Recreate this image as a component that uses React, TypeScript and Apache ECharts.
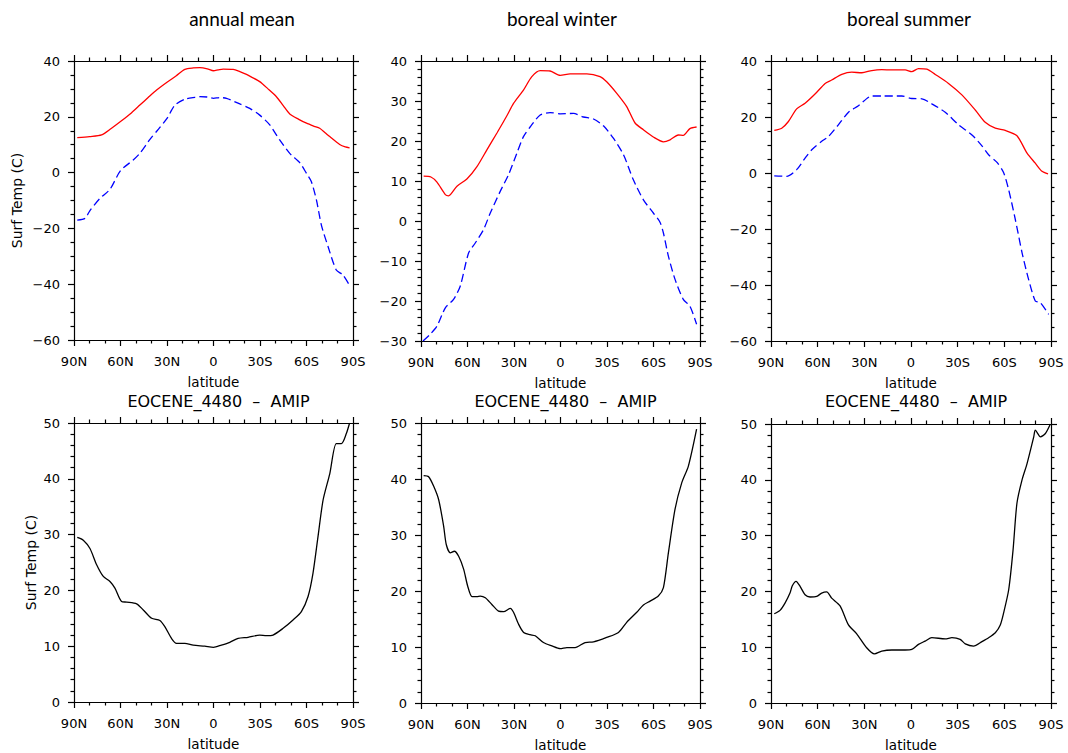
import React, { useEffect, useRef } from "react";
import * as echarts from "echarts";

// ---------- DATA ----------
const PANEL_TITLES = ["annual mean", "boreal winter", "boreal summer"];
const DIFF_TITLE = "EOCENE_4480\u00a0\u00a0–\u00a0\u00a0AMIP";
const X_NAME = "latitude";
const Y_NAME = "Surf Temp (C)";

// annual mean
const LAT_AM_RED = [87.9, 80, 72.2, 66, 60, 53, 47.5, 42, 36.7, 30, 24, 18.5, 13, 8.8, 4, 0, -3, -6.2, -12.7, -17, -21.3, -25, -29.8, -35, -40.6, -45, -49.2, -55, -60, -65, -68.5, -72, -75, -81.4, -85, -87.8];
const T_AM_RED = [12.5, 12.9, 13.5, 15.8, 18.3, 21.4, 24.2, 27.0, 29.6, 32.4, 34.7, 37.0, 37.5, 37.6, 37.2, 36.5, 36.8, 37.1, 37.0, 36.2, 35.2, 34.1, 32.6, 30.1, 27.2, 24.0, 21.0, 19.1, 17.7, 16.6, 15.9, 14.3, 12.9, 10.1, 9.2, 8.9];
const LAT_AM_BLUE = [87.9, 82.9, 79.7, 73.2, 66.8, 60, 51.8, 47.5, 41, 34.6, 30, 24.9, 18.5, 12, 8.8, 4, 0, -4, -8.4, -17, -23.4, -29.8, -36.3, -42.7, -49.2, -55.6, -60, -63.1, -66.4, -69.6, -73.9, -79.2, -83.5, -88.3];
const T_AM_BLUE = [-17.0, -16.4, -13.6, -9.2, -6.0, 0.7, 4.5, 6.9, 11.9, 16.2, 19.4, 24.2, 26.3, 27.0, 27.2, 27.1, 26.6, 26.9, 26.6, 24.6, 23.0, 20.6, 17.1, 11.7, 6.9, 3.6, -0.3, -3.2, -9.8, -18.8, -26.5, -34.9, -36.7, -40.9];

// boreal winter
const LAT_DJF_RED = [88.3, 83.6, 79.7, 74.3, 72.2, 66.8, 60.4, 53.9, 47.5, 41, 34.6, 30.3, 23.8, 18.5, 13.1, 6.7, 0.2, -6.2, -17, -25.5, -29.8, -36.3, -42.7, -48.1, -53.5, -59.9, -66.4, -70.7, -76, -79.2, -83.5, -87.8];
const T_DJF_RED = [11.2, 11.0, 9.7, 6.6, 6.3, 8.7, 10.5, 13.6, 17.8, 22.0, 26.3, 29.4, 32.8, 36.1, 37.6, 37.5, 36.4, 36.8, 36.8, 36.1, 34.8, 31.9, 28.6, 24.5, 22.8, 21.0, 19.8, 20.3, 21.5, 21.4, 23.1, 23.5];
const LAT_DJF_BLUE = [88.7, 84, 79.7, 74.3, 69, 64.7, 59.3, 55, 49.6, 45.3, 38.9, 33.5, 28.1, 23.9, 19.6, 13.1, 6.7, 0.2, -8.4, -14.8, -21.3, -27.7, -34.1, -40.6, -47, -53.5, -59.9, -64.2, -66.4, -69.6, -73.9, -79.2, -83.5, -87.8];
const T_DJF_BLUE = [-30.0, -28.3, -26.3, -21.7, -19.6, -16.3, -8.0, -5.5, -2.1, 2.0, 7.4, 11.6, 17.0, 21.1, 23.5, 26.5, 27.1, 26.8, 26.9, 26.0, 25.5, 23.8, 20.7, 16.6, 10.3, 5.3, 2.0, -0.3, -3.0, -8.8, -14.6, -19.6, -21.3, -25.8];

// boreal summer
const LAT_JJA_RED = [87.9, 83.1, 78.8, 73.5, 68.1, 61.7, 55.2, 51, 44.5, 38.1, 31.6, 25.2, 18.8, 12.3, 3.8, -0.5, -4.8, -10.2, -15.6, -24.1, -32.7, -41.3, -47.7, -54.2, -60.6, -68.1, -74.6, -79.9, -84.2, -88.1];
const T_JJA_RED = [15.2, 16.0, 18.4, 22.9, 24.9, 28.2, 32.0, 33.2, 35.2, 36.0, 35.8, 36.6, 36.9, 36.8, 36.8, 36.2, 37.3, 37.1, 35.2, 32.0, 27.9, 22.5, 18.1, 16.0, 15.2, 13.3, 7.1, 3.5, 0.6, -0.3];
const LAT_JJA_BLUE = [87.9, 79.9, 73.5, 68.1, 63.8, 57.4, 53.1, 46.7, 40.2, 33.8, 25.2, 18.8, 5.9, -0.5, -7, -13.4, -22, -30.6, -39.2, -45.6, -49.9, -55.3, -59.5, -62.8, -67.1, -71.4, -75.6, -79.9, -83.1, -88.5];
const T_JJA_BLUE = [-1.0, -1.2, 1.2, 5.3, 8.3, 11.3, 13.0, 17.2, 21.7, 24.0, 27.5, 27.5, 27.5, 26.6, 26.5, 24.7, 21.7, 17.2, 13.6, 9.7, 6.5, 3.8, 0.2, -6.0, -16.7, -28.5, -38.0, -45.7, -46.3, -50.5];

// differences EOCENE_4480 - AMIP
const LAT_AM_DIFF = [87.9, 84, 79.7, 75.4, 71.1, 66.8, 63.6, 59.3, 56, 49.6, 45.3, 39.9, 34.6, 31.4, 27.1, 23.9, 18.5, 13.1, 5.6, 0, -5.1, -10.5, -15.9, -22.3, -29.8, -34.1, -38.4, -44.9, -51.3, -56.7, -61, -64.2, -67.4, -70.7, -75, -79.2, -82.5, -85.7, -87.8];
const T_AM_DIFF = [29.5, 29.0, 27.5, 24.6, 22.5, 21.6, 20.4, 18.0, 17.9, 17.6, 16.5, 15.0, 14.6, 13.5, 11.4, 10.5, 10.5, 10.2, 10.0, 9.8, 10.2, 10.7, 11.4, 11.6, 12.0, 11.9, 12.0, 13.2, 14.7, 16.2, 18.9, 23.1, 29.6, 36.2, 40.9, 46.3, 46.3, 48.1, 50.0];
const LAT_DJF_DIFF = [88.3, 85.1, 81.8, 78.6, 75.4, 73.7, 71.1, 68.5, 65.7, 62.5, 59.9, 57.1, 53.9, 51.8, 48.5, 44.3, 40, 36.7, 32.4, 30.3, 27.1, 23.8, 19.6, 16.3, 11, 5.6, 0.2, -4.1, -9.4, -15.9, -21.3, -29.8, -37.4, -42.7, -49.2, -53.5, -57.8, -63.1, -66.4, -69.6, -73.9, -78.2, -82.5, -87.8];
const T_DJF_DIFF = [40.6, 40.4, 38.7, 36.3, 31.6, 28.3, 26.8, 27.1, 26.2, 23.9, 20.9, 19.0, 19.0, 19.1, 18.8, 17.6, 16.4, 16.3, 16.9, 16.2, 14.1, 12.6, 12.2, 12.0, 10.8, 10.2, 9.7, 9.9, 9.9, 10.8, 10.9, 11.7, 12.6, 14.4, 16.2, 17.5, 18.2, 19.1, 20.6, 26.8, 34.6, 39.3, 42.3, 48.9];
const LAT_JJA_DIFF = [87.9, 84.2, 81, 77.8, 76.3, 73.9, 71.3, 68.1, 64.9, 60.6, 57.4, 54.2, 51, 45.6, 40.2, 34.9, 28.5, 23.5, 18.8, 12.3, 3.8, -0.5, -4.8, -9.1, -13.4, -22, -26.3, -31.6, -34.9, -40.2, -45.6, -49.9, -54.2, -57.4, -59.5, -62.8, -65.6, -68.1, -71.3, -74.6, -78.9, -79.9, -83.2, -86.4, -89.6];
const T_JJA_DIFF = [16.0, 16.6, 17.9, 19.7, 21.0, 21.8, 20.9, 19.4, 19.0, 19.1, 19.7, 19.9, 18.8, 17.4, 14.0, 12.4, 9.9, 8.8, 9.3, 9.5, 9.5, 9.6, 10.5, 11.1, 11.7, 11.5, 11.7, 11.4, 10.6, 10.2, 11.0, 11.7, 12.6, 14.0, 16.1, 20.3, 27.4, 35.8, 39.9, 42.9, 47.7, 48.9, 47.7, 48.3, 50.0];

const X_TICKS = { min: -90, max: 90, interval: 30 };
const Y_RANGES = [
  { min: -60, max: 40, interval: 20, minor: 4 },
  { min: -30, max: 40, interval: 10, minor: 5 },
  { min: -60, max: 40, interval: 20, minor: 4 },
  { min: 0, max: 50, interval: 10, minor: 5 },
  { min: 0, max: 50, interval: 10, minor: 5 },
  { min: 0, max: 50, interval: 10, minor: 5 },
];

// ---------- HELPERS ----------
const zip = (a: number[], b: number[]) => a.map((v, i) => [v, b[i]]);
const FONT = "DejaVu Sans";
const latFmt = (v: number) => (v === 0 ? "0" : v > 0 ? `${v}N` : `${-v}S`);
const numFmt = (v: number) => (v < 0 ? `\u2212${-v}` : `${v}`);

const GRIDS = [
  { left: 74, top: 61, width: 279, height: 279 },
  { left: 421, top: 61, width: 279, height: 280 },
  { left: 771, top: 61, width: 280, height: 280 },
  { left: 74, top: 423, width: 279, height: 279 },
  { left: 421, top: 423, width: 279, height: 280 },
  { left: 771, top: 424, width: 280, height: 280 },
];

const lineStyleAxis = { color: "#000", width: 1.2 };

function buildOption() {
  const xAxis: any[] = [];
  const yAxis: any[] = [];
  GRIDS.forEach((g, gi) => {
    const yr = Y_RANGES[gi];
    const common = {
      type: "value",
      gridIndex: gi,
      splitLine: { show: false },
      axisLine: { show: true, onZero: false, lineStyle: lineStyleAxis },
      axisTick: { show: true, inside: false, length: 6, lineStyle: lineStyleAxis },
    };
    xAxis.push({
      ...common,
      ...X_TICKS,
      inverse: true,
      position: "bottom",
      minorTick: { show: true, splitNumber: 3, length: 3.5, lineStyle: lineStyleAxis },
      axisLabel: { formatter: latFmt, fontFamily: FONT, fontSize: 13, color: "#000", margin: 15 },
      name: X_NAME,
      nameLocation: "middle",
      nameGap: 35,
      nameTextStyle: { fontFamily: FONT, fontSize: 13.5, color: "#000" },
    });
    xAxis.push({
      ...common,
      ...X_TICKS,
      inverse: true,
      position: "top",
      minorTick: { show: true, splitNumber: 3, length: 3.5, lineStyle: lineStyleAxis },
      axisLabel: { show: false },
    });
    const showName = gi === 0 || gi === 3;
    yAxis.push({
      ...common,
      min: yr.min,
      max: yr.max,
      interval: yr.interval,
      position: "left",
      minorTick: { show: true, splitNumber: yr.minor, length: 3.5, lineStyle: lineStyleAxis },
      axisLabel: { formatter: numFmt, fontFamily: FONT, fontSize: 13, color: "#000", margin: 14 },
      name: showName ? Y_NAME : "",
      nameLocation: "middle",
      nameGap: gi === 0 ? 50 : 36,
      nameTextStyle: { fontFamily: FONT, fontSize: 14, color: "#000" },
    });
    yAxis.push({
      ...common,
      min: yr.min,
      max: yr.max,
      interval: yr.interval,
      position: "right",
      minorTick: { show: true, splitNumber: yr.minor, length: 3.5, lineStyle: lineStyleAxis },
      axisLabel: { show: false },
    });
  });

  const mk = (gi: number, data: number[][], color: string, dashed: boolean) => ({
    type: "line",
    xAxisIndex: gi * 2,
    yAxisIndex: gi * 2,
    data,
    smooth: 0.25,
    symbol: "none",
    clip: true,
    lineStyle: { color, width: 1.3, type: dashed ? [8, 4] : "solid" },
  });

  const series = [
    mk(0, zip(LAT_AM_RED, T_AM_RED), "#ff0000", false),
    mk(0, zip(LAT_AM_BLUE, T_AM_BLUE), "#0000ff", true),
    mk(1, zip(LAT_DJF_RED, T_DJF_RED), "#ff0000", false),
    mk(1, zip(LAT_DJF_BLUE, T_DJF_BLUE), "#0000ff", true),
    mk(2, zip(LAT_JJA_RED, T_JJA_RED), "#ff0000", false),
    mk(2, zip(LAT_JJA_BLUE, T_JJA_BLUE), "#0000ff", true),
    mk(3, zip(LAT_AM_DIFF, T_AM_DIFF), "#000000", false),
    mk(4, zip(LAT_DJF_DIFF, T_DJF_DIFF), "#000000", false),
    mk(5, zip(LAT_JJA_DIFF, T_JJA_DIFF), "#000000", false),
  ];

  const titleX = [237, 557, 904];
  const title: any[] = PANEL_TITLES.map((t, i) => ({
    text: t,
    left: titleX[i],
    top: 4,
    textAlign: "center",
    textStyle: { fontFamily: "Lato", fontSize: 19, fontWeight: "normal", color: "#000" },
  }));
  [3, 4, 5].forEach((gi) => {
    const g = GRIDS[gi];
    title.push({
      text: DIFF_TITLE,
      left: g.left + g.width / 2,
      top: 388,
      textAlign: "center",
      textStyle: { fontFamily: FONT, fontSize: 16, fontWeight: "normal", color: "#000" },
    });
  });

  return {
    animation: false,
    backgroundColor: "#fff",
    title,
    grid: GRIDS.map((g) => ({ ...g, containLabel: false })),
    xAxis,
    yAxis,
    series,
  };
}

export default function App() {
  const ref = useRef<HTMLDivElement>(null);
  useEffect(() => {
    if (!ref.current) return;
    const chart = echarts.init(ref.current, undefined, { renderer: "svg" });
    chart.setOption(buildOption() as any);
    return () => chart.dispose();
  }, []);
  return (
    <div
      ref={ref}
      style={{ position: "fixed", left: 0, top: 0, width: 1068, height: 753, background: "#fff" }}
    />
  );
}
